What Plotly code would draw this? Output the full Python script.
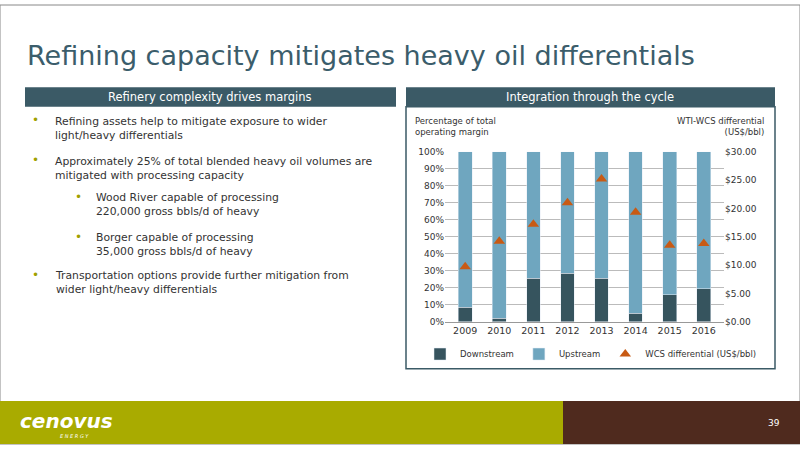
import plotly.graph_objects as go

years = ["2009", "2010", "2011", "2012", "2013", "2014", "2015", "2016"]
downstream = [8.5, 2, 25.5, 28.5, 25.5, 5, 16, 19.5]
upstream = [100 - d for d in downstream]
wcs_diff = [9.7, 14.2, 17.2, 21.0, 25.2, 19.3, 13.5, 13.8]
pct_ticks = list(range(0, 101, 10))
usd_ticks = [0, 5, 10, 15, 20, 25, 30]

W, H = 800, 449
def px(x): return x / W
def py(y): return 1 - y / H

DARK = "#3b5a66"
UP = "#6fa6bf"
DOWN = "#36545e"
TRI = "#c85a14"
FONT = "DejaVu Sans"

fig = go.Figure()
fig.add_bar(x=years, y=downstream, name="Downstream", marker_color=DOWN, width=0.4)
fig.add_bar(x=years, y=upstream, name="Upstream", marker_color=UP, width=0.4)
fig.add_scatter(x=years, y=wcs_diff, name="WCS differential (US$/bbl)", mode="markers",
                yaxis="y2", marker=dict(symbol="triangle-up", size=10, color=TRI))

shapes = []
shapes.append(dict(type="rect", xref="paper", yref="paper", x0=px(25), x1=px(396), y0=py(104), y1=py(84),
                   fillcolor=DARK, line_width=0))
shapes.append(dict(type="rect", xref="paper", yref="paper", x0=px(406), x1=px(775), y0=py(104), y1=py(84),
                   fillcolor=DARK, line_width=0))
shapes.append(dict(type="rect", xref="paper", yref="paper", x0=px(406), x1=px(775), y0=py(372), y1=py(104),
                   line=dict(color=DARK, width=1.5), layer="above"))
shapes.append(dict(type="rect", xref="paper", yref="paper", x0=0, x1=1, y0=0, y1=1, line=dict(color="#888", width=1)))
shapes.append(dict(type="rect", xref="paper", yref="paper", x0=0, x1=px(563), y0=0, y1=py(405),
                   fillcolor="#a9ab00", line_width=0))
shapes.append(dict(type="rect", xref="paper", yref="paper", x0=px(563), x1=1, y0=0, y1=py(405),
                   fillcolor="#4f2a1e", line_width=0))

ann = []
def A(text, x, y, xa="left", ya="middle", size=10, color="#333", align="left"):
    ann.append(dict(text=text, x=px(x), y=py(y), xref="paper", yref="paper", xanchor=xa, yanchor=ya,
                    align=align, showarrow=False, font=dict(family=FONT, size=size, color=color)))

A("Refining capacity mitigates heavy oil differentials", 25, 52, size=27, color="#3b5d6b")
A("Refinery complexity drives margins", 210, 94, xa="center", size=11.5, color="white")
A("Integration through the cycle", 590, 94, xa="center", size=11.5, color="white")
bullets = [
    (35, 53, 118, "Refining assets help to mitigate exposure to wider<br>light/heavy differentials"),
    (35, 53, 159, "Approximately 25% of total blended heavy oil volumes are<br>mitigated with processing capacity"),
    (78, 94, 196, "Wood River capable of processing<br>220,000 gross bbls/d of heavy"),
    (78, 94, 237, "Borger capable of processing<br>35,000 gross bbls/d of heavy"),
    (35, 53, 276, "Transportation options provide further mitigation from<br>wider light/heavy differentials"),
]
for bx, tx, ty, t in bullets:
    A("•", bx, ty, xa="center", size=12, color="#a0a000")
    A(t, tx, ty - 8, ya="top", size=10.8)
A("Percentage of total<br>operating margin", 413, 111, ya="top", size=8.5)
A("WTI-WCS differential<br>(US$/bbl)", 766, 111, xa="right", ya="top", size=8.5, align="right")
A("<b><i>cenovus</i></b>", 18, 425, size=20, color="white")
A("<i>E N E R G Y</i>", 58, 441, size=5, color="white")
A("39", 774, 428, xa="center", size=9, color="white")

fig.update_layout(
    width=W, height=H, margin=dict(l=0, r=0, t=0, b=0), paper_bgcolor="white", plot_bgcolor="white",
    barmode="stack", bargap=0.6, shapes=shapes, annotations=ann,
    font=dict(family=FONT, size=9, color="#333"),
    xaxis=dict(domain=[px(445), px(724)], showline=True, linecolor="#999", ticks="", tickfont=dict(size=9.5)),
    yaxis=dict(domain=[py(324), py(150)], range=[0, 100], tickvals=pct_ticks, ticktext=[f"{v}%" for v in pct_ticks],
               showgrid=True, gridcolor="#bbb", zeroline=False, tickfont=dict(size=9)),
    yaxis2=dict(overlaying="y", side="right", range=[0, 30], tickvals=usd_ticks,
                ticktext=[f"${v:.2f}" for v in usd_ticks], showgrid=False, zeroline=False, tickfont=dict(size=9)),
    legend=dict(orientation="h", x=px(420), y=py(357), xanchor="left", yanchor="middle",
                bgcolor="rgba(0,0,0,0)", font=dict(size=8.5), traceorder="normal", itemwidth=30),
)
fig.write_html("out.html", config={"displayModeBar": False},
               post_script="document.body.style.margin='0';document.body.style.overflow='hidden';")
